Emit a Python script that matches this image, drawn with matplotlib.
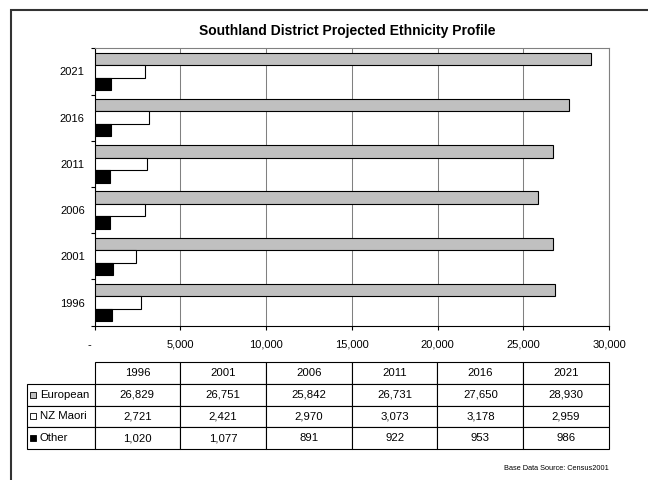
import matplotlib
matplotlib.use('Agg')
import matplotlib.pyplot as plt
from matplotlib.patches import Rectangle
from matplotlib.table import Table
import numpy as np

plt.rcParams['font.family'] = ['Liberation Sans', 'DejaVu Sans']

years = ['1996', '2001', '2006', '2011', '2016', '2021']
series = ['European', 'NZ Maori', 'Other']
european = [26829, 26751, 25842, 26731, 27650, 28930]
maori = [2721, 2421, 2970, 3073, 3178, 2959]
other = [1020, 1077, 891, 922, 953, 986]
colors = ['#c0c0c0', '#ffffff', '#000000']
xticks = np.arange(0, 30001, 5000)
xlabels = ['-   '] + ['{:,}'.format(v) for v in xticks[1:]]

W, H = 648, 480
fig = plt.figure(figsize=(6.48, 4.8), dpi=100)
ax = fig.add_axes([94.5 / W, 1 - 325.7 / H, 514.5 / W, 277.4 / H])

y = np.arange(len(years))
bh = 0.27
for vals, off, c in zip([european, maori, other], [bh, 0, -bh], colors):
    ax.barh(y + off, vals, bh, color=c, edgecolor='black', linewidth=0.8, zorder=3)

ax.set_xlim(0, 30000)
ax.set_xticks(xticks, xlabels)
ax.set_ylim(-0.5, len(years) - 0.5)
ax.set_yticks(np.arange(len(years) + 1) - 0.5, [''] * (len(years) + 1))
ax.set_yticks(y, years, minor=True)
ax.tick_params(axis='y', which='minor', length=0, pad=7)
ax.tick_params(axis='y', which='major', length=3, width=0.8)
ax.tick_params(axis='x', length=3, width=0.8, pad=7)
ax.tick_params(which='both', labelsize=8)
ax.grid(axis='x', color='#808080', linewidth=0.75)
ax.set_axisbelow(True)
for s in ['top', 'right']:
    ax.spines[s].set_color('#808080')
for s in ['left', 'bottom']:
    ax.spines[s].set_linewidth(0.8)

# data table under the chart, columns aligned with the x ticks
y0, th = -0.4445, 0.3136
rh = th / 4
lab_w = 0.131
tb = Table(ax, bbox=[0, y0, 1, th])
tb.auto_set_font_size(False)
for j, yr in enumerate(years):
    tb.add_cell(0, j, 1 / 6, rh, text=yr, loc='center')
for i, (name, vals) in enumerate(zip(series, [european, maori, other])):
    c = tb.add_cell(i + 1, -1, lab_w, rh, text=name, loc='left')
    c.PAD = 0.19
    for j, v in enumerate(vals):
        tb.add_cell(i + 1, j, 1 / 6, rh, text='{:,}'.format(v), loc='center')
for cell in tb.get_celld().values():
    cell.set_linewidth(0.8)
    cell.set_edgecolor('black')
tb.set_fontsize(8.2)
ax.add_table(tb)

# legend keys in the row label cells
for i, c in enumerate(colors):
    yc = y0 + th - (i + 1.5) * rh
    ax.add_patch(Rectangle((-lab_w + 3 / 514.5, yc - 3 / 277.4), 6 / 514.5, 6 / 277.4,
                           transform=ax.transAxes, facecolor=c, edgecolor='black',
                           linewidth=0.6, clip_on=False))

fig.text(347 / W, 1 - 31 / H, 'Southland District Projected Ethnicity Profile',
         ha='center', va='center', fontsize=10, fontweight='bold')
fig.text(609 / W, 1 - 469 / H, 'Base Data Source: Census2001',
         ha='right', va='center', fontsize=5.3)

fig.add_artist(Rectangle((11 / W, -0.1), 1.2, 1.1 - 10 / H, transform=fig.transFigure,
                         fill=False, edgecolor='#333333', linewidth=1.5))

fig.savefig('out.png', dpi=100)
